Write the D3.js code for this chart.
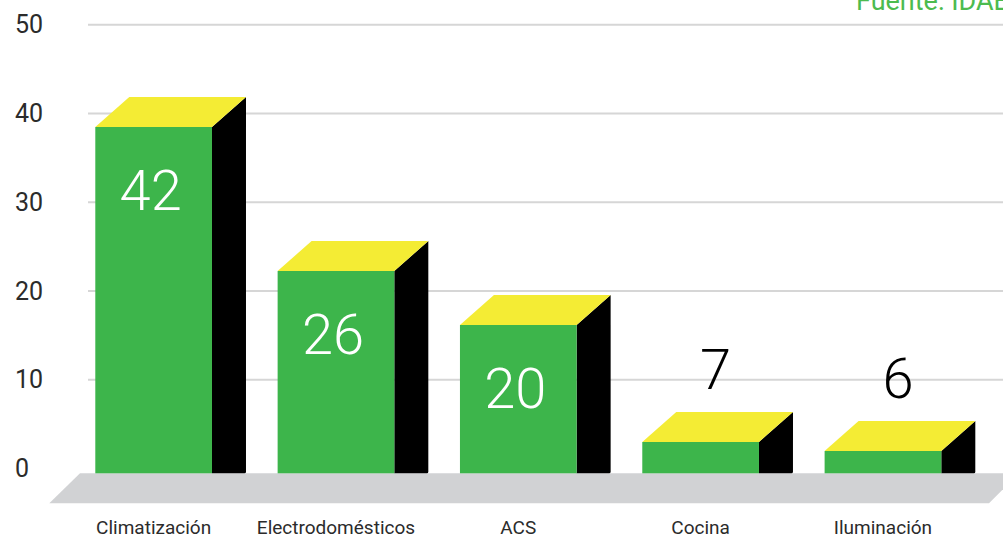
<!DOCTYPE html>
<html>
<head>
<meta charset="utf-8">
<script src="https://cdn.jsdelivr.net/npm/d3@7"></script>
<style>
  html, body { margin: 0; padding: 0; background: #fff; }
  svg { display: block; font-family: Roboto, "Noto Sans", sans-serif; }
</style>
</head>
<body>
<svg id="chart" width="1003" height="539"></svg>
<script>
// ---- data ----
const categories = ["Climatización", "Electrodomésticos", "ACS", "Cocina", "Iluminación"];
const values = [42, 26, 20, 7, 6];
const tickValues = [0, 10, 20, 30, 40, 50];
const sourceText = "Fuente: IDAE";

// ---- layout / style ----
const W = 1003, H = 539;
const floorY = 473.3;          // top edge of gray floor (bar base)
const depthX = 34, depthY = 30; // 3D offset
const colors = { front: "#3db54b", top: "#f4ec34", side: "#000000", floor: "#d1d2d4", grid: "#d6d6d6", text: "#2b2b2b", source: "#4cbb4f" };

const svg = d3.select("#chart");

// axis scale (gridlines on the back wall)
const yAxis = d3.scaleLinear().domain([0, 50]).range([468.5, 24.7]);
// bar scale (front face top edge)
const yBar = d3.scaleLinear().domain([0, 50]).range([505, 55]);
const x = d3.scaleBand().domain(categories).range([95.3, 941.3]).paddingInner(0.36).paddingOuter(0);

// gridlines
svg.append("g").selectAll("line")
  .data(tickValues.filter(t => t > 0))
  .join("line")
  .attr("x1", 88).attr("x2", W)
  .attr("y1", d => yAxis(d)).attr("y2", d => yAxis(d))
  .attr("stroke", colors.grid).attr("stroke-width", 2);

// tick labels
svg.append("g").selectAll("text")
  .data(tickValues)
  .join("text")
  .attr("x", 15)
  .attr("y", d => yAxis(d))
  .attr("dy", "0.35em")
  .attr("font-size", 25)
  .attr("font-weight", 400)
  .attr("fill", colors.text)
  .text(d => d);

// floor
const fx0 = 80, fx1 = 1019, fDepth = 30;
svg.append("path")
  .attr("d", `M${fx0},${floorY}L${fx1},${floorY}L${fx1 - fDepth},${floorY + fDepth}L${fx0 - fDepth - 0.7},${floorY + fDepth}Z`)
  .attr("fill", colors.floor);

// bars
const data = categories.map((c, i) => ({ cat: c, v: values[i] }));
const bars = svg.append("g").selectAll("g").data(data).join("g");

bars.append("path") // side
  .attr("d", d => {
    const xr = x(d.cat) + x.bandwidth(), t = yBar(d.v);
    return `M${xr},${t}L${xr + depthX},${t - depthY}L${xr + depthX},${floorY - 1.5}Q${xr + depthX},${floorY} ${xr + depthX - 1.5},${floorY}L${xr},${floorY}Z`;
  })
  .attr("fill", colors.side);

bars.append("path") // top
  .attr("d", d => {
    const xl = x(d.cat), xr = xl + x.bandwidth(), t = yBar(d.v);
    return `M${xl},${t}L${xl + depthX},${t - depthY}L${xr + depthX},${t - depthY}L${xr},${t}Z`;
  })
  .attr("fill", colors.top);

bars.append("rect") // front
  .attr("x", d => x(d.cat))
  .attr("y", d => yBar(d.v))
  .attr("width", x.bandwidth())
  .attr("height", d => floorY - yBar(d.v))
  .attr("fill", colors.front);

// value labels
bars.append("text")
  .attr("text-anchor", "middle")
  .attr("font-size", 56)
  .attr("font-weight", 300)
  .attr("x", d => x(d.cat) + x.bandwidth() / 2 + (d.v >= 10 ? -3 : 15))
  .attr("y", d => d.v >= 10 ? yBar(d.v) + 83 : yBar(d.v) - 53)
  .attr("fill", d => d.v >= 10 ? "#ffffff" : "#000000")
  .text(d => d.v);

// category labels
svg.append("g").selectAll("text")
  .data(categories)
  .join("text")
  .attr("x", d => x(d) + x.bandwidth() / 2)
  .attr("y", 533.5)
  .attr("text-anchor", "middle")
  .attr("font-size", 19)
  .attr("font-weight", 400)
  .attr("fill", colors.text)
  .text(d => d);

// source
svg.append("text")
  .attr("x", 856)
  .attr("y", 10)
  .attr("font-size", 27)
  .attr("fill", colors.source)
  .text(sourceText);
</script>
</body>
</html>
